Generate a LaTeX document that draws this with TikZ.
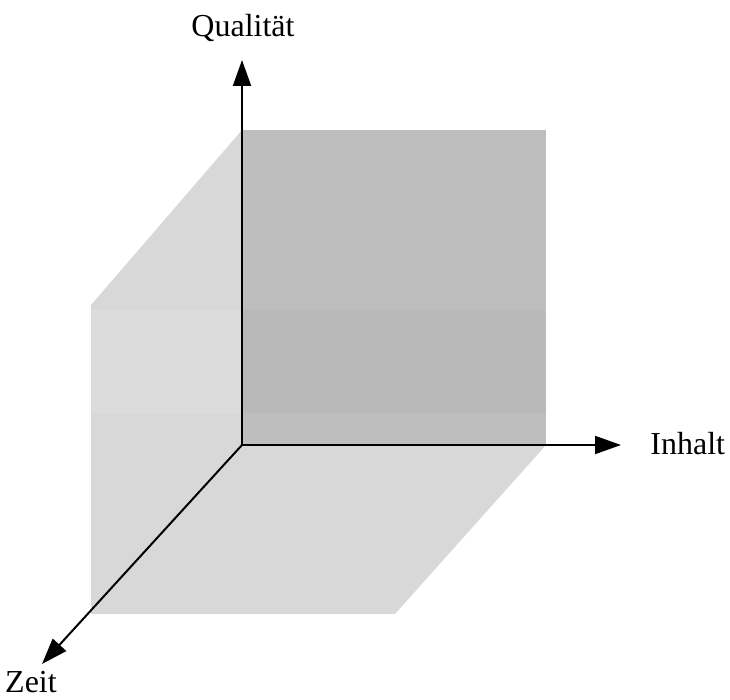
\documentclass[tikz,border=0pt]{standalone}
\usepackage{fontspec}
\setmainfont{Liberation Serif}
\definecolor{backgrey}{RGB}{190,190,190}
\definecolor{backband}{RGB}{185,185,185}
\definecolor{sidegrey}{RGB}{216,216,216}
\definecolor{sideband}{RGB}{220,220,220}
\usetikzlibrary{arrows.meta,positioning,calc}
\tikzset{
  axis/.style={-{Triangle[length=13pt,width=9pt]}, line width=1pt, black},
  axislabel/.style={font=\fontsize{16}{19}\selectfont, inner sep=0pt}
}
\begin{document}
\begin{tikzpicture}[x=0.5pt, y=-0.5pt]
  \useasboundingbox (0,0) rectangle (730,700);

  %% Cube faces
  \fill[sidegrey] (242,130) -- (91,305) -- (91,614) -- (395,614) -- (546,445) -- (242,445) -- cycle;
  \fill[sideband] (91,310) rectangle (242,413);
  \fill[backgrey] (242,130) rectangle (546,445);
  \fill[backband] (242,310) rectangle (546,413);

  %% Axes
  \coordinate (o) at (242,445);
  \coordinate (qtip) at (242,60);
  \coordinate (itip) at (621,445);
  \coordinate (ztip) at (42,664);
  \draw[axis] (o) -- (qtip);
  \draw[axis] (o) -- (itip);
  \draw[axis] (o) -- (ztip);

  %% Labels
  \node[axislabel, anchor=base]      (qual) at (243,37)  {Qualität};
  \node[axislabel, anchor=base west] (inh)  at (650,455) {Inhalt};
  \node[axislabel, anchor=base]      (zeit) at (31,693)  {Zeit};
\end{tikzpicture}
\end{document}
